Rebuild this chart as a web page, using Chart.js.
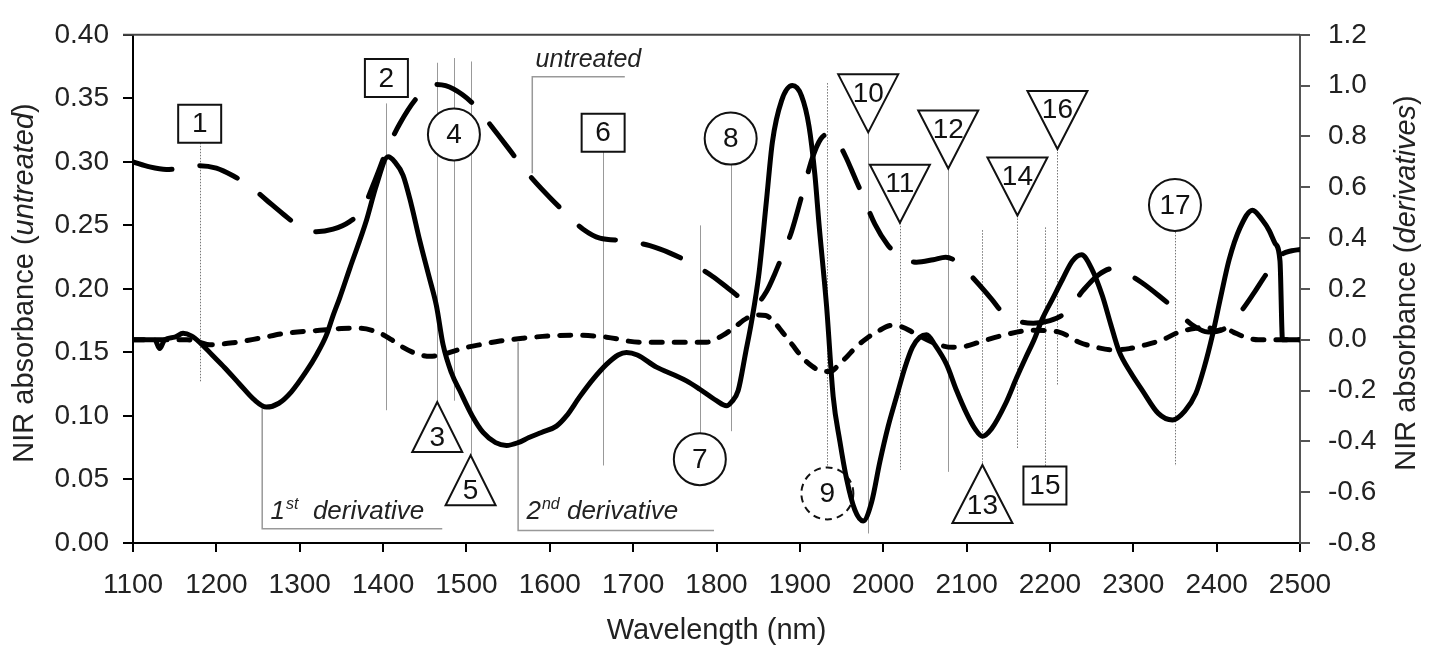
<!DOCTYPE html>
<html>
<head>
<meta charset="utf-8">
<script src="https://cdn.jsdelivr.net/npm/chart.js@4"></script>
<style>
  body { margin: 0; background: #fff; }
  canvas { display: block; }
</style>
</head>
<body>
<canvas id="nirChart" width="1441" height="652"></canvas>
<script>
// Untreated spectrum (left axis)
const untreatedWl = [1100,1120,1140,1160,1180,1200,1220,1240,1260,1280,1300,1320,1340,1360,1375,1390,1405,1420,1440,1460,1475,1495,1515,1530,1550,1565,1580,1600,1620,1640,1660,1690,1720,1745,1770,1795,1815,1836,1848,1860,1870,1880,1890,1903,1915,1925,1935,1945,1955,1965,1975,1990,2005,2020,2040,2060,2075,2091,2110,2130,2145,2160,2180,2200,2220,2240,2258,2275,2290,2310,2330,2350,2370,2390,2410,2430,2445,2460,2478,2490,2500];
const untreatedAbs = [0.300,0.296,0.294,0.295,0.297,0.295,0.289,0.281,0.270,0.259,0.249,0.245,0.247,0.253,0.262,0.285,0.310,0.330,0.350,0.361,0.360,0.353,0.341,0.328,0.311,0.298,0.286,0.272,0.259,0.247,0.240,0.238,0.234,0.228,0.220,0.210,0.200,0.190,0.189,0.198,0.212,0.228,0.245,0.275,0.303,0.318,0.322,0.316,0.304,0.289,0.274,0.251,0.235,0.225,0.221,0.223,0.225,0.220,0.207,0.192,0.180,0.175,0.173,0.175,0.182,0.199,0.211,0.216,0.213,0.205,0.195,0.184,0.172,0.166,0.169,0.183,0.197,0.212,0.227,0.230,0.231];

// 1st derivative (right axis)
const firstWl = [1100,1120,1126,1132,1138,1150,1160,1170,1180,1195,1210,1228,1245,1260,1275,1290,1308,1320,1332,1340,1348,1360,1380,1392,1406,1414,1424,1434,1444,1455,1464,1472,1482,1492,1507,1520,1535,1548,1562,1575,1590,1608,1620,1636,1652,1668,1682,1692,1705,1728,1750,1764,1780,1800,1812,1818,1826,1835,1842,1851,1860,1867,1878,1891,1902,1911,1918,1923,1932,1940,1948,1956,1966,1976,1986,1996,2006,2016,2026,2035,2044,2052,2062,2076,2088,2100,2110,2119,2130,2147,2160,2171,2181,2191,2203,2215,2227,2238,2250,2263,2273,2283,2297,2311,2330,2347,2362,2375,2385,2395,2405,2415,2428,2443,2455,2463,2470,2476,2479,2490,2500];
const firstDeriv = [0.0,0.0,0.0,-0.035,0.0,0.01,0.025,0.015,-0.01,-0.06,-0.11,-0.175,-0.235,-0.265,-0.25,-0.205,-0.124,-0.06,0.018,0.095,0.165,0.28,0.469,0.608,0.72,0.70,0.647,0.53,0.39,0.25,0.134,-0.02,-0.13,-0.2,-0.30,-0.365,-0.405,-0.416,-0.405,-0.385,-0.365,-0.34,-0.30,-0.224,-0.155,-0.097,-0.06,-0.05,-0.06,-0.108,-0.14,-0.162,-0.195,-0.24,-0.26,-0.245,-0.2,-0.05,0.07,0.262,0.55,0.777,0.94,1.0,0.96,0.84,0.65,0.454,0.134,-0.224,-0.40,-0.547,-0.67,-0.713,-0.64,-0.48,-0.34,-0.224,-0.11,-0.03,0.01,0.02,-0.02,-0.097,-0.20,-0.29,-0.35,-0.38,-0.35,-0.25,-0.15,-0.07,0.0,0.083,0.16,0.237,0.31,0.334,0.28,0.172,0.06,-0.046,-0.13,-0.2,-0.29,-0.316,-0.28,-0.212,-0.11,0.018,0.17,0.315,0.44,0.51,0.47,0.43,0.38,0.31,0.0,0.0,0.0];

// 2nd derivative (right axis)
const secondWl = [1100,1140,1165,1180,1192,1220,1252,1284,1324,1350,1372,1396,1410,1424,1440,1456,1470,1484,1500,1516,1540,1568,1600,1628,1668,1708,1748,1788,1808,1822,1836,1848,1859,1869,1879,1891,1903,1915,1927,1937,1947,1957,1967,1980,1992,2011,2023,2035,2059,2083,2100,2115,2147,2179,2211,2235,2256,2276,2295,2315,2335,2355,2375,2388,2400,2410,2420,2438,2450,2500];
const secondDeriv = [0.0,0.0,0.0,-0.01,-0.02,-0.012,0.006,0.026,0.037,0.044,0.045,0.026,0.0,-0.03,-0.055,-0.065,-0.06,-0.046,-0.03,-0.02,-0.005,0.006,0.015,0.018,0.01,-0.01,-0.01,-0.01,0.018,0.05,0.084,0.097,0.095,0.07,0.03,-0.02,-0.07,-0.105,-0.124,-0.125,-0.097,-0.065,-0.03,0.005,0.03,0.057,0.05,0.03,-0.01,-0.03,-0.025,-0.01,0.02,0.037,0.03,-0.01,-0.03,-0.04,-0.035,-0.02,0.0,0.03,0.045,0.05,0.035,0.045,0.03,0.006,0.0,0.0];

// Numbered band markers: wavelength, label, shape; y values in left-axis units
const markWl     = [1180,1404,1465,1485,1505,1664,1780,1817,1933,1982,2020,2078,2119,2161,2194,2209,2350];
const markLabel  = ['1','2','3','4','5','6','7','8','9','10','11','12','13','14','15','16','17'];
const markShape  = ['box','box','up','circle','up','box','circle','circle','dashcircle','down','down','down','up','down','box','down','circle'];
const markY      = [0.330,0.366,0.111,0.3216,0.069,0.323,0.066,0.3183,0.039,0.3232,0.252,0.2947,0.0614,0.2578,0.0452,0.3101,0.2661];
const lineTop    = [0.315,0.346,0.378,0.3817,0.379,0.309,0.250,0.3183,0.362,0.3232,0.252,0.2947,0.2462,0.2578,0.2484,0.3101,0.2661];
const lineBottom = [0.127,0.1045,0.111,0.112,0.069,0.061,0.066,0.088,0.039,0.0075,0.0576,0.056,0.0614,0.0737,0.0606,0.1245,0.0606];
const lineDotted = [true,false,false,false,false,false,false,false,true,false,true,false,true,true,true,true,true];

const FONT = '"Liberation Sans", Arial, sans-serif';

function toPoints(xs, ys) {
    return xs.map((x, i) => ({ x: x, y: ys[i] }));
}

// Draw band markers and curve callouts behind the spectra
const markerPlugin = {
    id: 'markers',
    beforeDatasetsDraw(chart) {
        const ctx = chart.ctx;
        const sx = chart.scales.x, sy = chart.scales.y;
        ctx.save();

        // vertical guide lines
        markWl.forEach((wl, i) => {
            const px = Math.round(sx.getPixelForValue(wl)) + 0.5;
            ctx.beginPath();
            ctx.lineWidth = 1;
            ctx.strokeStyle = lineDotted[i] ? '#777' : '#999';
            ctx.setLineDash(lineDotted[i] ? [1.5, 1.5] : []);
            ctx.moveTo(px, sy.getPixelForValue(lineTop[i]));
            ctx.lineTo(px, sy.getPixelForValue(lineBottom[i]));
            ctx.stroke();
        });
        ctx.setLineDash([]);

        // shapes
        markWl.forEach((wl, i) => {
            const px = sx.getPixelForValue(wl);
            const py = sy.getPixelForValue(markY[i]);
            const shape = markShape[i];
            const wide = markLabel[i].length > 1;
            const tw = wide ? 60 : 50, th = wide ? 58 : 50;
            let ty = py;
            ctx.lineWidth = 2;
            ctx.strokeStyle = '#111';
            ctx.fillStyle = '#fff';
            ctx.beginPath();
            if (shape === 'box') {
                ctx.rect(px - 21.5, py - 19, 43, 38);
            } else if (shape === 'circle' || shape === 'dashcircle') {
                ctx.arc(px, py, 26, 0, Math.PI * 2);
                if (shape === 'dashcircle') ctx.setLineDash([7, 5]);
            } else if (shape === 'down') {
                ctx.moveTo(px, py);
                ctx.lineTo(px - tw / 2, py - th);
                ctx.lineTo(px + tw / 2, py - th);
                ctx.closePath();
                ty = py - th + th * 0.32;
            } else {
                ctx.moveTo(px, py);
                ctx.lineTo(px - tw / 2, py + th);
                ctx.lineTo(px + tw / 2, py + th);
                ctx.closePath();
                ty = py + th - th * 0.3;
            }
            ctx.fill();
            ctx.stroke();
            ctx.setLineDash([]);
            ctx.fillStyle = '#111';
            ctx.font = '28px ' + FONT;
            ctx.textAlign = 'center';
            ctx.textBaseline = 'middle';
            ctx.fillText(markLabel[i], px, ty + 1);
        });

        // callouts naming the three curves
        ctx.strokeStyle = '#999';
        ctx.lineWidth = 1.5;
        const P = (wl, v) => [sx.getPixelForValue(wl), sy.getPixelForValue(v)];
        function leader(pts) {
            ctx.beginPath();
            pts.forEach((p, k) => {
                const q = P(p[0], p[1]);
                if (k === 0) ctx.moveTo(q[0], q[1]); else ctx.lineTo(q[0], q[1]);
            });
            ctx.stroke();
        }
        leader([[1579, 0.291], [1579, 0.367], [1690, 0.367]]);
        leader([[1255, 0.106], [1255, 0.0113], [1471, 0.0113]]);
        leader([[1562, 0.158], [1562, 0.0098], [1797, 0.0098]]);

        ctx.fillStyle = '#222';
        ctx.textAlign = 'left';
        ctx.textBaseline = 'alphabetic';
        ctx.font = 'italic 25px ' + FONT;
        let p = P(1583, 0.3745);
        ctx.fillText('untreated', p[0], p[1]);

        function ordinal(wl, num, sup, rest) {
            const q = P(wl, 0.0185);
            let x = q[0];
            ctx.font = 'italic 26px ' + FONT;
            ctx.fillText(num, x, q[1]);
            x += ctx.measureText(num).width + 1;
            ctx.font = 'italic 16px ' + FONT;
            ctx.fillText(sup, x, q[1] - 10);
            x += ctx.measureText(sup).width;
            ctx.font = 'italic 26px ' + FONT;
            ctx.fillText(rest, x, q[1]);
        }
        ordinal(1265, '1', 'st', '  derivative');
        ordinal(1572, '2', 'nd', ' derivative');

        ctx.restore();
    },
    afterDraw(chart) {
        const ctx = chart.ctx;
        const a = chart.chartArea;
        ctx.save();
        // top frame line
        ctx.strokeStyle = '#444';
        ctx.lineWidth = 2;
        ctx.beginPath();
        ctx.moveTo(a.left - 10, a.top);
        ctx.lineTo(a.right, a.top);
        ctx.stroke();

        // axis titles with italic parts
        ctx.fillStyle = '#222';
        ctx.textBaseline = 'middle';
        function mixed(parts, cx, cy, rot) {
            ctx.save();
            ctx.translate(cx, cy);
            ctx.rotate(rot);
            let total = 0;
            parts.forEach(pt => { ctx.font = pt[1] + '29px ' + FONT; total += ctx.measureText(pt[0]).width; });
            let x = -total / 2;
            ctx.textAlign = 'left';
            parts.forEach(pt => {
                ctx.font = pt[1] + '29px ' + FONT;
                ctx.fillText(pt[0], x, 0);
                x += ctx.measureText(pt[0]).width;
            });
            ctx.restore();
        }
        mixed([['Wavelength (nm)', '']], (a.left + a.right) / 2, 631, 0);
        mixed([['NIR absorbance (', ''], ['untreated', 'italic '], [')', '']], 25, 283, -Math.PI / 2);
        mixed([['NIR absorbance (', ''], ['derivatives', 'italic '], [')', '']], 1407, 283, -Math.PI / 2);
        ctx.restore();
    }
};

const tickFont = { family: FONT, size: 28 };

new Chart(document.getElementById('nirChart').getContext('2d'), {
    type: 'line',
    data: {
        datasets: [
            {
                label: 'untreated',
                data: toPoints(untreatedWl, untreatedAbs),
                yAxisID: 'y',
                borderColor: '#000',
                borderWidth: 5,
                borderDash: [40, 28],
                borderCapStyle: 'round',
                pointRadius: 0,
                cubicInterpolationMode: 'monotone'
            },
            {
                label: '1st derivative',
                data: toPoints(firstWl, firstDeriv),
                yAxisID: 'y1',
                borderColor: '#000',
                borderWidth: 5,
                borderJoinStyle: 'round',
                pointRadius: 0,
                cubicInterpolationMode: 'monotone'
            },
            {
                label: '2nd derivative',
                data: toPoints(secondWl, secondDeriv),
                yAxisID: 'y1',
                borderColor: '#000',
                borderWidth: 5,
                borderDash: [11, 12],
                borderCapStyle: 'round',
                pointRadius: 0,
                cubicInterpolationMode: 'monotone'
            }
        ]
    },
    options: {
        responsive: false,
        animation: false,
        devicePixelRatio: 1,
        layout: { padding: { top: 23, left: 0, right: 0, bottom: 0 } },
        plugins: { legend: { display: false }, tooltip: { enabled: false } },
        scales: {
            x: {
                type: 'linear',
                min: 1100, max: 2500,
                ticks: { stepSize: 100, font: tickFont, color: '#222', padding: 16, maxRotation: 0, callback: v => String(v) },
                grid: { drawOnChartArea: false, tickLength: 9, color: '#000', lineWidth: 2 },
                border: { color: '#000', width: 2 },
                afterFit: s => { s.height = 109; }
            },
            y: {
                position: 'left',
                min: 0, max: 0.40,
                ticks: { stepSize: 0.05, font: tickFont, color: '#222', padding: 14, callback: v => v.toFixed(2) },
                grid: { drawOnChartArea: false, tickLength: 10, color: '#000', lineWidth: 2 },
                border: { color: '#000', width: 2 },
                afterFit: s => { s.width = 133; }
            },
            y1: {
                position: 'right',
                min: -0.8, max: 1.2,
                ticks: { stepSize: 0.2, font: tickFont, color: '#222', padding: 18,
                    callback: v => (Math.abs(v) < 1e-9 ? '0.0' : v.toFixed(1)) },
                grid: { drawOnChartArea: false, tickLength: 10, color: '#555', lineWidth: 2 },
                border: { color: '#555', width: 2 },
                afterFit: s => { s.width = 141; }
            }
        }
    },
    plugins: [markerPlugin]
});
</script>
</body>
</html>
